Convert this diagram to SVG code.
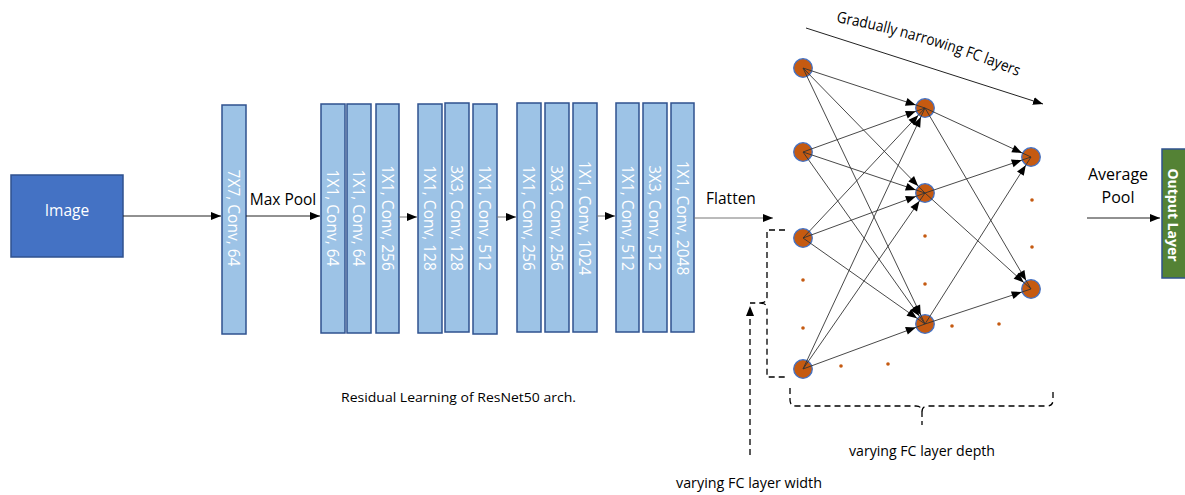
<svg xmlns="http://www.w3.org/2000/svg" width="1185" height="495" viewBox="0 0 1185 495">
  <style>
    text { font-family: "Open Sans", "Liberation Sans", sans-serif; fill: #000; }
    .bar { fill: #9DC3E6; stroke: #2F528F; stroke-width: 1.5; }
    .bar-label { fill: #fff; font-size: 15.5px; text-anchor: middle; dominant-baseline: central; }
    .lbl { font-size: 15.5px; }
    .wire { stroke: #222; stroke-width: 1; fill: none; }
    .gray { stroke: #777; }
    .edge { stroke: #333; stroke-width: 0.9; fill: none; }
    .node { fill: #C55A11; stroke: #4472C4; stroke-width: 1.3; }
    .dot { fill: #C55A11; }
    .dash { stroke: #000; stroke-width: 1.3; fill: none; stroke-dasharray: 6 4; }
  </style>
  <defs>
    <marker id="arrow" markerUnits="userSpaceOnUse" markerWidth="11" markerHeight="9" refX="10" refY="4" orient="auto">
      <path d="M0,0 L10,4 L0,8 z" fill="#000"/>
    </marker>
    <!-- stops short of the node so the tip lands on the circle edge -->
    <marker id="arrow-node" markerUnits="userSpaceOnUse" markerWidth="11" markerHeight="9" refX="19.8" refY="4" orient="auto" overflow="visible">
      <path d="M0,0 L10,4 L0,8 z" fill="#000"/>
    </marker>
    <path id="narrow-path" d="M836,22 Q931,40 1022,78"/>
  </defs>

  <!-- input -->
  <g id="image">
    <rect x="11" y="175" width="112" height="82" fill="#4472C4" stroke="#2F528F" stroke-width="1.5"/>
    <text x="67" y="216" font-size="15.5" text-anchor="middle" style="fill:#fff">Image</text>
  </g>

  <!-- stem -->
  <g id="conv7x7">
    <rect class="bar" x="222" y="105" width="24" height="229"/>
    <text class="bar-label" transform="translate(234,218) rotate(90)">7X7, Conv, 64</text>
  </g>

  <!-- stage 1 -->
  <g id="stage1">
    <rect class="bar" x="321" y="104" width="24" height="229"/>
    <text class="bar-label" transform="translate(333,218) rotate(90)">1X1, Conv, 64</text>
    <rect class="bar" x="347" y="104" width="24" height="229"/>
    <text class="bar-label" transform="translate(359,218) rotate(90)">1X1, Conv, 64</text>
    <rect class="bar" x="376" y="104" width="23" height="229"/>
    <text class="bar-label" transform="translate(387.5,218) rotate(90)">1X1, Conv, 256</text>
  </g>

  <!-- stage 2 -->
  <g id="stage2">
    <rect class="bar" x="418" y="104" width="24" height="229"/>
    <text class="bar-label" transform="translate(430,218) rotate(90)">1X1, Conv, 128</text>
    <rect class="bar" x="445" y="103" width="24" height="229"/>
    <text class="bar-label" transform="translate(457,218) rotate(90)">3X3, Conv, 128</text>
    <rect class="bar" x="473" y="104" width="24" height="230"/>
    <text class="bar-label" transform="translate(485,218) rotate(90)">1X1, Conv, 512</text>
  </g>

  <!-- stage 3 -->
  <g id="stage3">
    <rect class="bar" x="517" y="103" width="24" height="229"/>
    <text class="bar-label" transform="translate(529,218) rotate(90)">1X1, Conv, 256</text>
    <rect class="bar" x="545" y="103" width="24" height="229"/>
    <text class="bar-label" transform="translate(557,218) rotate(90)">3X3, Conv, 256</text>
    <rect class="bar" x="573" y="103" width="24" height="229"/>
    <text class="bar-label" transform="translate(585,218) rotate(90)">1X1, Conv, 1024</text>
  </g>

  <!-- stage 4 -->
  <g id="stage4">
    <rect class="bar" x="616" y="103" width="23" height="229"/>
    <text class="bar-label" transform="translate(627.5,218) rotate(90)">1X1, Conv, 512</text>
    <rect class="bar" x="643" y="103" width="24" height="229"/>
    <text class="bar-label" transform="translate(655,218) rotate(90)">3X3, Conv, 512</text>
    <rect class="bar" x="671" y="103" width="23" height="229"/>
    <text class="bar-label" transform="translate(682.5,218) rotate(90)">1X1, Conv, 2048</text>
  </g>

  <!-- output -->
  <g id="output-layer">
    <rect x="1162" y="149" width="30" height="129" fill="#548235" stroke="#2F528F" stroke-width="1.5"/>
    <text transform="translate(1173,215) rotate(90)" font-size="14" font-weight="bold" text-anchor="middle" dominant-baseline="central" style="fill:#fff">Output Layer</text>
  </g>

  <!-- fully connected head -->
  <g id="fc-layer1">
    <circle class="node" cx="803" cy="68" r="9.3"/>
    <circle class="node" cx="803" cy="152" r="9.3"/>
    <circle class="node" cx="803" cy="238" r="9.3"/>
    <circle class="node" cx="803" cy="369" r="9.3"/>
    <circle class="dot" cx="803" cy="280" r="1.8"/>
    <circle class="dot" cx="803" cy="328" r="1.8"/>
  </g>
  <g id="fc-layer2">
    <circle class="node" cx="925" cy="108" r="9.3"/>
    <circle class="node" cx="925" cy="193" r="9.3"/>
    <circle class="node" cx="925" cy="324" r="9.3"/>
    <circle class="dot" cx="925" cy="236" r="1.8"/>
    <circle class="dot" cx="925" cy="284" r="1.8"/>
  </g>
  <g id="fc-layer3">
    <circle class="node" cx="1031" cy="157" r="9.3"/>
    <circle class="node" cx="1031" cy="289" r="9.3"/>
    <circle class="dot" cx="1032" cy="200" r="1.8"/>
    <circle class="dot" cx="1032" cy="247" r="1.8"/>
  </g>
  <g id="fc-depth-dots">
    <circle class="dot" cx="841" cy="366" r="1.8"/>
    <circle class="dot" cx="888" cy="364" r="1.8"/>
    <circle class="dot" cx="952" cy="326" r="1.8"/>
    <circle class="dot" cx="999" cy="324" r="1.8"/>
  </g>

  <!-- labels -->
  <g id="labels">
    <text class="lbl" x="283" y="205" text-anchor="middle">Max Pool</text>
    <text class="lbl" x="731" y="204" text-anchor="middle">Flatten</text>
    <text x="1118" y="180" font-size="16" text-anchor="middle">Average</text>
    <text x="1118" y="203" font-size="16" text-anchor="middle">Pool</text>
    <text x="341" y="402" font-size="13.5" textLength="235" lengthAdjust="spacingAndGlyphs">Residual Learning of ResNet50 arch.</text>
    <text x="849" y="456" font-size="14.5" textLength="146" lengthAdjust="spacingAndGlyphs">varying FC layer depth</text>
    <text x="676" y="488" font-size="14.5" textLength="146" lengthAdjust="spacingAndGlyphs">varying FC layer width</text>
    <text font-size="15.5"><textPath href="#narrow-path" textLength="190" lengthAdjust="spacingAndGlyphs">Gradually narrowing FC layers</textPath></text>
  </g>

  <!-- connectors -->
  <g id="connectors">
    <line class="wire" x1="123" y1="216" x2="221" y2="216" marker-end="url(#arrow)"/>
    <line class="wire" x1="246" y1="216" x2="320" y2="216" marker-end="url(#arrow)"/>
    <line class="wire gray" x1="399" y1="217" x2="417" y2="217" marker-end="url(#arrow)"/>
    <line class="wire gray" x1="497" y1="217" x2="516" y2="217" marker-end="url(#arrow)"/>
    <line class="wire gray" x1="597" y1="216" x2="615" y2="216" marker-end="url(#arrow)"/>
    <line class="wire gray" x1="694" y1="218" x2="773" y2="218" marker-end="url(#arrow)"/>
    <line class="wire" x1="1087" y1="218" x2="1160" y2="218" marker-end="url(#arrow)"/>
    <line class="wire" x1="806" y1="28" x2="1043" y2="104" marker-end="url(#arrow)"/>

    <!-- layer 1 to layer 2 -->
    <line class="edge" x1="803" y1="68" x2="925" y2="108" marker-end="url(#arrow-node)"/>
    <line class="edge" x1="803" y1="68" x2="925" y2="193" marker-end="url(#arrow-node)"/>
    <line class="edge" x1="803" y1="68" x2="925" y2="324" marker-end="url(#arrow-node)"/>
    <line class="edge" x1="803" y1="152" x2="925" y2="108" marker-end="url(#arrow-node)"/>
    <line class="edge" x1="803" y1="152" x2="925" y2="193" marker-end="url(#arrow-node)"/>
    <line class="edge" x1="803" y1="152" x2="925" y2="324" marker-end="url(#arrow-node)"/>
    <line class="edge" x1="803" y1="238" x2="925" y2="108" marker-end="url(#arrow-node)"/>
    <line class="edge" x1="803" y1="238" x2="925" y2="193" marker-end="url(#arrow-node)"/>
    <line class="edge" x1="803" y1="238" x2="925" y2="324" marker-end="url(#arrow-node)"/>
    <line class="edge" x1="803" y1="369" x2="925" y2="108" marker-end="url(#arrow-node)"/>
    <line class="edge" x1="803" y1="369" x2="925" y2="193" marker-end="url(#arrow-node)"/>
    <line class="edge" x1="803" y1="369" x2="925" y2="324" marker-end="url(#arrow-node)"/>
    <!-- layer 2 to layer 3 -->
    <line class="edge" x1="925" y1="108" x2="1031" y2="157" marker-end="url(#arrow-node)"/>
    <line class="edge" x1="925" y1="108" x2="1031" y2="289" marker-end="url(#arrow-node)"/>
    <line class="edge" x1="925" y1="193" x2="1031" y2="157" marker-end="url(#arrow-node)"/>
    <line class="edge" x1="925" y1="193" x2="1031" y2="289" marker-end="url(#arrow-node)"/>
    <line class="edge" x1="925" y1="324" x2="1031" y2="157" marker-end="url(#arrow-node)"/>
    <line class="edge" x1="925" y1="324" x2="1031" y2="289" marker-end="url(#arrow-node)"/>

    <!-- width brace and pointer -->
    <path class="dash" d="M785,230 H767 V297 Q767,303 760,303 H750 M760,303 Q767,303 767,309 V377 H785"/>
    <line class="dash" x1="750" y1="455" x2="750" y2="306" marker-end="url(#arrow)"/>
    <!-- depth brace -->
    <path class="dash" d="M790,388 V400 Q790,406 796,406 H916 Q922,406 922,412 V425 M922,412 Q922,406 928,406 H1047 Q1053,406 1053,400 V388"/>
  </g>
</svg>
